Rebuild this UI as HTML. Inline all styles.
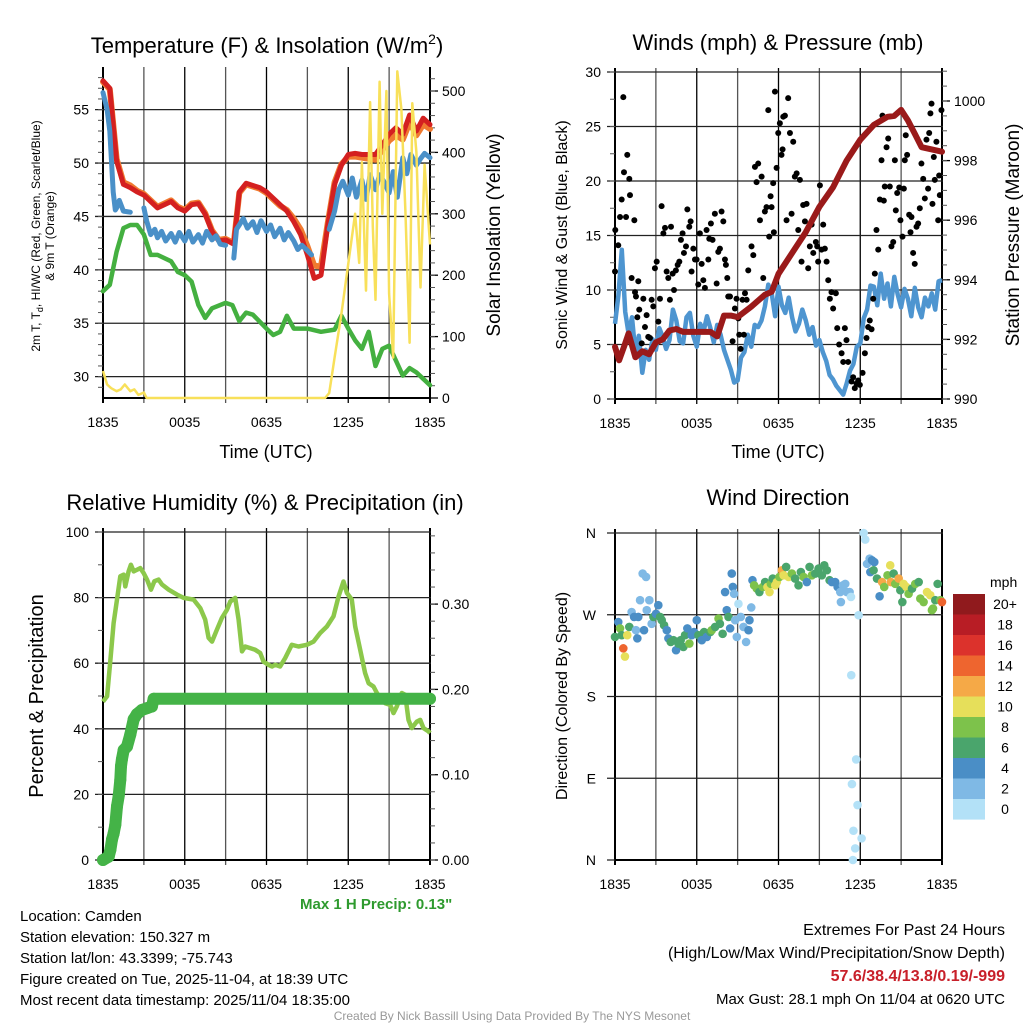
<!DOCTYPE html>
<html><head><meta charset="utf-8"><style>
html,body{margin:0;padding:0;background:#fff;}
svg{display:block;font-family:"Liberation Sans",Arial,sans-serif;}
</style></head><body>
<svg id="chart" width="1024" height="1024" viewBox="0 0 1024 1024" xmlns="http://www.w3.org/2000/svg">
<rect width="1024" height="1024" fill="#fff"/>
<g id="g1"></g>
<g id="g2"></g>
<g id="g3"></g>
<g id="g4"></g>
<text x="267" y="53" font-size="22" text-anchor="middle">Temperature (F) &amp; Insolation (W/m<tspan dy="-9" font-size="14">2</tspan><tspan dy="9">)</tspan></text>
<text x="778" y="50" font-size="22" text-anchor="middle">Winds (mph) &amp; Pressure (mb)</text>
<text x="265" y="510" font-size="22" text-anchor="middle">Relative Humidity (%) &amp; Precipitation (in)</text>
<text x="778" y="505" font-size="22" text-anchor="middle">Wind Direction</text>
<text x="266" y="458" font-size="18" text-anchor="middle">Time (UTC)</text>
<text x="778" y="458" font-size="18" text-anchor="middle">Time (UTC)</text>
<text transform="translate(40,236) rotate(-90)" font-size="12" text-anchor="middle">2m T, T<tspan dy="3" font-size="9">d</tspan><tspan dy="-3">, HI/WC (Red, Green, Scarlet/Blue)</tspan></text>
<text transform="translate(54,236) rotate(-90)" font-size="12" text-anchor="middle">&amp; 9m T (Orange)</text>
<text transform="translate(500,235) rotate(-90)" font-size="19" text-anchor="middle">Solar Insolation (Yellow)</text>
<text transform="translate(567,235) rotate(-90)" font-size="16" text-anchor="middle">Sonic Wind &amp; Gust (Blue, Black)</text>
<text transform="translate(1019,235) rotate(-90)" font-size="19" text-anchor="middle">Station Pressure (Maroon)</text>
<text transform="translate(43,696) rotate(-90)" font-size="20" text-anchor="middle">Percent &amp; Precipitation</text>
<text transform="translate(567,696) rotate(-90)" font-size="16" text-anchor="middle">Direction (Colored By Speed)</text>
<text x="300" y="909" font-size="15" font-weight="bold" fill="#2e9a2e">Max 1 H Precip: 0.13"</text>
<g font-size="15">
<text x="20" y="921">Location: Camden</text>
<text x="20" y="942">Station elevation: 150.327 m</text>
<text x="20" y="963">Station lat/lon: 43.3399; -75.743</text>
<text x="20" y="984">Figure created on Tue, 2025-11-04, at 18:39 UTC</text>
<text x="20" y="1005">Most recent data timestamp: 2025/11/04 18:35:00</text>
</g>
<g font-size="16" text-anchor="end">
<text x="1005" y="935">Extremes For Past 24 Hours</text>
<text x="1005" y="958">(High/Low/Max Wind/Precipitation/Snow Depth)</text>
<text x="1005" y="981" font-weight="bold" fill="#c8202a">57.6/38.4/13.8/0.19/-999</text>
<text x="1005" y="1004" font-size="15">Max Gust: 28.1 mph On 11/04 at 0620 UTC</text>
</g>
<text x="512" y="1020" font-size="12" fill="#999" text-anchor="middle">Created By Nick Bassill Using Data Provided By The NYS Mesonet</text>
</svg>
<script>
// ---------------- data ----------------
const xTickLabels = ["1835","0035","0635","1235","1835"];
const tempTicks = [30,35,40,45,50,55];
const insolTicks = [0,100,200,300,400,500];
const windTicks = [0,5,10,15,20,25,30];
const presTicks = [990,992,994,996,998,1000];
const rhTicks = [0,20,40,60,80,100];
const precipTicks = [0.00,0.10,0.20,0.30];
const dirTickLabels = ["N","E","S","W","N"];
const dirTickValues = [0,90,180,270,360];

const redT = [0,0.5,1,1.5,2,2.5,3,3.5,4,4.5,5,5.5,6,6.5,7,7.5,8,8.5,9,9.6,10,10.5,11,11.5,12,12.5,13,13.5,14,14.5,15,15.5,16,16.5,17,17.5,18,18.5,19,19.5,20,20.5,21,21.5,22,22.5,23,23.5,24];
const redV = [57.7,57,50.2,48,47.7,47.3,47,46.4,45.8,46.1,46.4,45.8,45.5,46.1,46.2,45.2,43.6,42.7,42.8,42.4,47.3,48.1,47.9,47.7,47.3,46.7,46.1,45.5,44.5,43.3,41.4,39.2,39.5,44.2,48,49.8,50.8,50.9,50.8,50.8,50.8,51.7,52.7,53.3,52.7,54.5,53,54.2,53.6];
const orangeV = [57.6,56.9,50.4,48.2,47.9,47.4,47.1,46.5,45.9,46.2,46.5,45.9,45.6,46.2,46.3,45.3,43.7,42.8,42.9,42.5,47.2,48,47.8,47.6,47.2,46.6,46,45.6,44.8,43.8,42.2,40.4,40.3,44.4,48.2,49.9,50.6,50.6,50.5,50.4,50.3,51.2,52.1,52.6,52.2,53.8,52.6,53.6,53.2];
const blueT = [0,0.3,0.5,0.75,0.9,1,1.2,1.5,2,null,3,3.2,3.5,3.8,4,4.3,4.6,5,5.3,5.6,6,6.3,6.6,7,7.3,7.6,8,8.3,8.6,9,null,9.6,9.8,10,10.3,10.6,11,11.3,11.6,12,12.3,12.6,13,13.3,13.6,14,14.3,14.6,15,15.3,null,16.6,17,17.3,17.6,18,18.3,18.6,19,19.3,19.6,20,20.3,20.6,21,21.3,21.6,22,22.3,22.6,23,23.3,23.6,24];
const blueV = [56.6,55,53,47.3,45.6,45.8,46.5,45.5,45.4,null,45.8,44.6,43.3,43.8,43,43.6,42.7,43.4,42.6,43.5,42.7,43.6,42.6,43.3,42.5,43.6,42.8,43.2,42.4,42.3,null,41.1,43.8,44.2,44.8,43.9,44.5,43.5,44.6,43.6,44.2,43.1,43.9,42.8,43.5,42.7,41.9,42.3,41.8,41.4,null,43.8,45.5,47.5,48.3,47,48.6,46.8,48.4,46.6,48.9,47.5,48.9,48.3,47.2,49.2,46.8,50.5,49,50.8,49.8,50.4,50.9,50.5];
const greenT = [0,0.5,1,1.5,2,2.5,3,3.5,4,5,5.5,6,6.5,7,7.5,8,9,9.5,10,10.5,11,12,12.5,13,13.5,14,15,16,17,17.5,18,18.5,19,19.5,20,20.5,21,21.5,22,22.5,23,23.5,24];
const greenV = [38,38.6,41.7,43.9,44.2,44.2,43.3,41.4,41.4,40.8,39.8,39.5,38.9,36.7,35.5,36.4,36.9,36.7,35.2,36,35.8,34.5,33.9,34.2,35.7,34.5,34.5,34.2,34.4,35.7,34.5,33.4,32.6,34.2,31,32.6,32.9,31.5,30.1,30.8,30.4,29.8,29.2];
const solarT = [0,0.3,0.6,1,1.3,1.6,2,2.3,2.6,3,3.2,16.3,16.6,17,17.5,18,18.5,18.8,19,19.3,19.6,19.8,20,20.3,20.5,20.8,21,21.3,21.6,21.9,22.2,22.5,22.7,23,23.3,23.6,24];
const solarV = [44,22,16,11,14,22,11,14,5,9,0,0,8,66,137,219,300,220,384,175,482,280,160,515,300,500,170,66,532,470,300,90,480,400,180,380,250];

const presT = [0,0.3,0.7,1,1.5,2,2.5,3,3.5,4,4.5,5,6,7,7.5,8,8.5,9,10,11,11.5,12,13,14,15,16,17,18,19,20,20.5,21,21.5,22,22.5,23,24];
const presV = [991.75,991.3,991.8,992.2,991.4,991.6,991.5,991.9,992,992.3,992.35,992.25,992.25,992.25,992.1,992.8,992.8,992.75,993.1,993.5,993.6,994.2,994.9,995.6,996.45,997.1,998,998.7,999.2,999.47,999.5,999.7,999.35,998.9,998.45,998.4,998.3];
const windT = [0,0.25,0.5,0.75,1,1.25,1.5,1.75,2,2.25,2.5,2.75,3,3.25,3.5,3.75,4,4.25,4.5,4.75,5,5.25,5.5,5.75,6,6.25,6.5,6.75,7,7.25,7.5,7.75,8,8.25,8.5,8.75,9,9.25,9.5,9.75,10,10.25,10.5,10.75,11,11.25,11.5,11.75,12,12.25,12.5,12.75,13,13.25,13.5,13.75,14,14.25,14.5,14.75,15,15.25,15.5,15.75,16,16.25,16.5,16.75,17,17.25,17.5,17.75,18,18.25,18.5,18.75,19,19.25,19.5,19.75,20,20.25,20.5,20.75,21,21.25,21.5,21.75,22,22.25,22.5,22.75,23,23.25,23.5,23.75,24];
const windV = [6.9,9.5,13.7,8,6,7.5,4.2,5.8,2.4,4.5,3.6,5.5,4.5,6.5,5.7,4.6,5.4,8.2,7.2,5.3,5.1,7.5,7.9,5.8,4.8,6.9,6.2,7.6,6.5,5.2,6.8,5.9,4.5,3.6,2.7,1.5,1.7,3.8,4.3,5.9,4.8,6.8,6.6,7.2,8.5,10.5,9.7,7.6,10.3,8.6,7.9,9.3,7.5,6.2,6.9,8.2,7.2,5.9,6.6,4.9,5.4,4.3,3.5,2.2,1.8,1.2,0.8,0.4,1.4,2.6,3.2,4.8,5.1,7.4,8.2,10.4,10.3,8.6,11.5,9.2,10.6,8.5,11.2,9.6,8.4,10.1,9.2,7.6,10.2,8.4,7.5,9.3,8.5,9.7,8.2,10.8,10.9];
const gustT = [0,0.02,0.24,0.37,0.49,0.61,0.66,0.81,0.9,1.05,1.1,1.22,1.42,1.47,1.54,1.64,1.71,1.78,1.96,2.08,2.2,2.32,2.44,2.57,2.69,2.81,2.93,3.06,3.18,3.3,3.42,3.55,3.67,3.79,3.91,4.03,4.11,4.23,4.33,4.47,4.6,4.72,4.84,4.96,5.06,5.21,5.31,5.45,5.55,5.62,5.75,5.87,5.99,6.11,6.23,6.36,6.48,6.6,6.72,6.85,6.92,7.04,7.16,7.33,7.46,7.58,7.7,7.82,7.95,8.07,8.14,8.24,8.31,8.44,8.63,8.8,8.92,9.05,9.12,9.22,9.36,9.46,9.54,9.66,9.78,10.02,10.15,10.27,10.39,10.51,10.64,10.76,10.88,11,11.12,11.25,11.32,11.42,11.49,11.61,11.66,11.74,11.86,11.98,12.1,12.22,12.3,12.35,12.47,12.59,12.71,12.84,12.96,13.08,13.2,13.33,13.45,13.57,13.69,13.81,13.94,14.06,14.18,14.3,14.43,14.55,14.74,14.84,14.91,15.04,15.16,15.28,15.4,15.53,15.65,15.77,15.89,16.01,16.21,16.31,16.45,16.63,16.75,16.87,16.99,17.11,17.36,17.48,17.6,17.73,17.85,17.97,18.17,18.34,18.46,18.58,18.7,18.83,18.95,19.07,19.19,19.32,19.44,19.56,19.63,19.73,19.8,19.93,20.05,20.17,20.29,20.42,20.54,20.61,20.71,20.86,20.95,21.1,21.2,21.27,21.34,21.44,21.59,21.69,21.76,21.88,22,22.13,22.25,22.37,22.49,22.62,22.74,22.86,22.98,23.06,23.15,23.23,23.3,23.4,23.47,23.59,23.72,23.79,23.84,23.96];
const gustV = [11.7,15.5,14.1,16.7,18.3,27.7,20.8,16.7,22.4,20.2,18.7,11.1,16.4,9.8,9.4,7.5,10.8,8.2,5.1,9.2,6.6,7.7,5.7,5.6,9.1,8.5,12,12.6,7.1,9.2,17.7,15.2,15.7,11.7,11.1,9.1,15.8,11.5,10,11.8,12.3,12.6,14.6,15.2,13.4,14,17.4,15.8,16.3,11.7,13.8,12.8,12.8,10.5,15.2,12.4,10.9,10.2,15.5,12.8,14.7,16.1,14.6,17,10.6,13.5,13.8,17.2,16.3,12.8,12.3,11.1,9.4,9.4,5.3,8.3,9.2,7.4,5.9,4.6,9.1,5.9,9.7,9.1,11.8,14,13.2,21.3,19.9,21.6,16.4,20.4,11.1,17.2,17.6,26.5,14.9,18.6,17.6,19.8,15.3,28.2,21.2,24.4,25.3,22.4,22.9,25.9,26,16.4,27.6,24.4,17,23.6,20.4,20.7,15.5,20.1,12.6,17.8,16.3,17.9,12,14,16,13.4,14.4,14,12.6,19.6,13.7,16,13.8,12.6,10.9,9.2,9.8,8.3,9.7,6.5,5,4.2,3.4,6.5,5.4,3.4,1.6,2,1,1.4,1.7,1.3,2.4,4.2,5.6,6.6,7.2,6.4,9.2,11.5,15.5,13.7,18.3,21.9,26,18.2,19.5,23.1,23.9,19.5,14,14.4,21.9,17.3,18.9,19.4,16.4,14.9,19.3,21.9,24.2,22.4,16.9,15.3,16.7,13.4,12.4,15.8,16.1,17.5,21.6,20.2,18.4,23.8,19.3,24.4,26.2,27.1,17.9,22.2,20.1,23.6,16.4,20.5,18.7,26.5];

const rhT = [0,0.3,0.54,0.78,1.03,1.27,1.52,1.64,1.88,2.05,2.25,2.74,2.98,3.23,3.52,3.77,4.08,4.33,4.82,5.43,5.92,6.65,7.14,7.5,7.75,8,8.36,8.73,9.1,9.34,9.7,9.95,10.2,10.44,10.8,11.17,11.54,11.78,12.15,12.4,12.64,13,13.37,13.86,14.35,14.96,15.45,15.94,16.43,16.92,17.29,17.65,17.9,18.26,18.51,18.88,19.24,19.49,19.85,20.1,20.34,20.71,21.08,21.32,21.56,21.93,22.18,22.42,22.66,23.03,23.28,23.52,23.89,24];
const rhV = [48.3,49.9,61,72.2,79.4,86.5,87,83.4,88,90,88,89,87.5,85.5,82.4,85,85.5,84,82.4,80.9,79.9,79.4,76.8,73.3,67.7,66.6,70.2,73.8,76.3,78.8,79.9,73.3,63.6,65.1,64.6,64.1,63.1,60.5,59.5,59,59.5,59,61.6,65.6,65.1,65.6,66.6,69.2,71.2,74.3,80.4,84.9,81.4,79.4,71.2,64.1,57,53.9,52.9,50.9,49.4,47.8,47.3,44.8,46.8,50.9,50.4,42.7,40.2,42.2,42.7,40.2,39.2,38.7];
const precipT = [0,0.42,0.54,0.66,0.78,0.9,1.03,1.15,1.27,1.32,1.39,1.52,1.76,2,2.25,2.49,2.86,3.23,3.59,3.72,6,9,12,15,18,21,24];
const precipV = [0,0.004,0.012,0.024,0.031,0.041,0.063,0.075,0.094,0.11,0.118,0.129,0.133,0.147,0.165,0.171,0.176,0.178,0.18,0.189,0.189,0.189,0.189,0.189,0.189,0.189,0.189];

const dirT = [0,0.24,0.37,0.49,0.61,0.73,0.9,1.05,1.22,1.4,1.54,1.64,1.71,1.84,2.03,2.28,2.13,2.33,2.52,2.69,2.82,3.01,3.18,3.31,3.43,3.6,3.8,3.92,4.09,4.29,4.48,4.65,4.82,5.02,5.14,5.31,5.46,5.63,5.8,6,6.12,6.37,6.54,6.74,7,7.1,7.35,7.6,7.7,7.9,8.08,8.2,8.33,8.45,8.57,8.65,8.74,8.82,8.94,9.06,9.23,9.43,9.62,9.8,9.87,10,10.09,10.21,10.41,10.6,10.85,11.02,11.19,11.34,11.44,11.58,11.76,11.88,12.07,12.25,12.37,12.56,12.74,12.98,13.22,13.47,13.64,13.84,14.08,14.28,14.45,14.7,14.94,15.18,15.36,15.55,15.75,15.92,16.16,16.34,16.53,16.73,16.9,17.02,17.22,17.32,16.58,17.88,17.34,17.7,17.39,17.8,17.5,18.1,17.63,17.46,18.25,18.37,18.5,18.69,18.86,19.03,18.74,18.98,19.23,19.42,19.6,19.76,20,20.2,20.25,20.45,20.57,20.82,20.94,21.09,21.18,21.38,21.55,21.8,22.04,22.29,22.41,22.65,22.9,23.14,23.34,23.51,23.68,23.88,24,23.26];
const dirV = [245.6,262,255,247.5,233,224,247.5,256.6,273,267.6,253,244,267.6,286,315.3,311.6,253,275,286,260,267.6,271,280.5,267.6,264,258.5,253,244,240,242,231,238.3,242,234.6,247.5,255,238.3,247.5,251,264,247.5,242,251,245.6,251,253,256.6,265.8,260,249,295,275,267.6,255,315.3,300.6,293,264,245.6,282,267.6,256.6,240,253,264,278,308,302.4,298.8,295,300.6,306,300.6,295,304,309.8,302.4,306,311.6,319,313.4,322.6,311.6,315.3,309.8,302.4,317,311.6,306,322.6,313.4,315.3,320.8,313.4,324.4,319,308,306,306,300.6,295,302.4,304,295,295,289.6,284,269.5,203.5,110.7,83.6,60.5,32.2,23.8,12.8,0,360,352.7,326,331.8,330,328,317,319,309.8,290.3,306,300.6,313.4,324.4,306,315.3,304,309.8,297,284,304,300.6,293,298.8,304,306,287.8,284,295,291.5,276.8,286,304,286,284,275];
const dirSpd = [6,4,8,6,15,10,10,7,2,4,3,4,4,2,2,2,4,2,2,2,6,4,4,6,6,6,4,4,6,6,4,6,6,6,6,4,8,4,4,4,6,4,6,4,6,8,6,8,6,6,4,4,6,4,4,4,2,2,2,0,2,2,2,4,4,2,4,8,8,6,8,6,10,10,8,6,10,10,8,12,10,6,10,8,6,6,6,8,4,6,8,6,6,6,6,6,6,4,4,4,2,2,2,2,2,0,2,0,0,0,0,0,0,0,0,0,0,0,2,2,4,4,4,6,6,4,12,8,8,10,12,6,8,12,6,6,10,10,8,6,8,6,8,8,10,10,8,6,6,8,14,8];
const speedLabels = ["20+","18","16","14","12","10","8","6","4","2","0"];
const speedColors = ["#b3e1f7","#7fb9e5","#4a8ec6","#4aa56c","#7dc24b","#e6df5a","#f5a947","#ee652f","#dc322c","#b81d25","#901a1d"];

// ---------------- drawing ----------------
const NS="http://www.w3.org/2000/svg";
function el(parent,tag,attrs){const e=document.createElementNS(NS,tag);for(const k in attrs)e.setAttribute(k,attrs[k]);parent.appendChild(e);return e;}
function txt(parent,x,y,s,size,anchor){const t=el(parent,"text",{x:x,y:y,"font-size":size,"text-anchor":anchor});t.textContent=s;return t;}
function pathD(T,V,sx,sy){let d="",pen=false;for(let i=0;i<T.length;i++){if(T[i]===null||V[i]===null){pen=false;continue;}d+=(pen?"L":"M")+sx(T[i]).toFixed(1)+" "+sy(V[i]).toFixed(1);pen=true;}return d;}

function frame(g,P,leftTicks,ly,leftFmt,rightTicks,ry,rightFmt,minorL,minorR){
  const sx=h=>P.x0+h*(P.x1-P.x0)/24;
  for(let h=0;h<=24;h+=3){const x=sx(h);
    const l=el(g,"line",{x1:x,y1:P.y0-4,x2:x,y2:P.y1+5,stroke:(h%6===0)?"#000":"#555","stroke-width":(h===0||h===24)?2:1.3});
    
    }
  for(let i=0;i<xTickLabels.length;i++){const t=txt(g,sx(i*6),P.y1+29,xTickLabels[i],14,"middle");
    
    }
  leftTicks.forEach(v=>{const y=ly(v);
    const l=el(g,"line",{x1:P.x0-8,y1:y,x2:P.x1+1,y2:y,stroke:"#222","stroke-width":1.3});
    
    
    if(leftFmt){const t=txt(g,P.x0-14,y+5,leftFmt(v),14,"end");
    
    }});
  if(minorL){minorL.forEach(v=>{const y=ly(v);el(g,"line",{x1:P.x0-5,y1:y,x2:P.x0,y2:y,stroke:"#555","stroke-width":1});});}
  if(rightTicks){rightTicks.forEach(v=>{const y=ry(v);el(g,"line",{x1:P.x1,y1:y,x2:P.x1+8,y2:y,stroke:"#000","stroke-width":1.3});
    const t=txt(g,P.x1+12,y+5,rightFmt(v),14,"start");
    
    });}
  if(minorR){minorR.forEach(v=>{const y=ry(v);el(g,"line",{x1:P.x1,y1:y,x2:P.x1+5,y2:y,stroke:"#555","stroke-width":1});});}
  el(g,"line",{x1:P.x0,y1:P.y1,x2:P.x1,y2:P.y1,stroke:"#000","stroke-width":2});
  return sx;
}
function range(a,b,s){const r=[];for(let v=a;v<=b+1e-9;v+=s)r.push(+v.toFixed(3));return r;}

// Panel 1
(function(){const g=document.getElementById("g1");const P={x0:103,x1:430,y0:71,y1:398};
 const ty=t=>398-(t-28)*53.4/5, iy=v=>398-v*0.614;
 const sx=frame(g,P,tempTicks,ty,v=>String(v),insolTicks,iy,v=>String(v),range(29,58,1),range(20,520,20));
 const add=(T,V,c,w,name)=>{const p=el(g,"path",{d:pathD(T,V,sx,ty),fill:"none",stroke:c,"stroke-width":w,"stroke-linejoin":"round","stroke-linecap":"round"});
   
   };
 add(greenT,greenV,"#44b040",4.5,"dewpoint-line");
 add(redT,orangeV,"#f07a30",6,"9m-temp-line");
 add(redT,redV,"#d42020",5,"2m-temp-line");
 add(blueT,blueV,"#4a90c8",5,"heat-index-windchill-line");
 const p=el(g,"path",{d:pathD(solarT,solarV,sx,iy),fill:"none",stroke:"#f8e05a","stroke-width":2.5,"stroke-linejoin":"round"});
 
 
})();

// Panel 2
(function(){const g=document.getElementById("g2");const P={x0:615,x1:942,y0:72,y1:399};
 const wy=w=>399-w*10.9, py=p=>399-(p-990)*29.8;
 const sx=frame(g,P,windTicks,wy,v=>String(v),presTicks,py,v=>String(v),range(0,30,2.5),range(990,1001,0.5));
 const b=el(g,"path",{d:pathD(windT,windV,sx,wy),fill:"none",stroke:"#4e95d0","stroke-width":4.5,"stroke-linejoin":"round"});
 
 
 for(let i=0;i<gustT.length;i++){const c=el(g,"circle",{cx:sx(gustT[i]),cy:wy(gustV[i]),r:3,fill:"#000"});
  
  }
 const m=el(g,"path",{d:pathD(presT,presV,sx,py),fill:"none",stroke:"#9a1a1a","stroke-width":6,"stroke-linejoin":"round","stroke-linecap":"round"});
 
 
})();

// Panel 3
(function(){const g=document.getElementById("g3");const P={x0:103,x1:430,y0:532,y1:860};
 const ry=v=>860-v*3.28, qy=v=>860-v*853;
 const sx=frame(g,P,rhTicks,ry,v=>String(v),precipTicks,qy,v=>v.toFixed(2),range(0,100,10),range(0,0.38,0.02));
 const r=el(g,"path",{d:pathD(rhT,rhV,sx,ry),fill:"none",stroke:"#8cc84b","stroke-width":4.5,"stroke-linejoin":"round"});
 
 
 const q=el(g,"path",{d:pathD(precipT,precipV,sx,qy),fill:"none",stroke:"#44b347","stroke-width":12,"stroke-linecap":"round","stroke-linejoin":"round"});
 
 
 for(let i=0;i<precipT.length;i++){const c=el(g,"circle",{cx:sx(precipT[i]),cy:qy(precipV[i]),r:6,fill:"#44b347"});
  
  }
})();

// Panel 4
(function(){const g=document.getElementById("g4");const P={x0:615,x1:942,y0:533,y1:860};
 const dy=d=>860-d*327/360;
 const sx=frame(g,P,dirTickValues,dy,null,null,null,null,null,null);
 for(let i=0;i<dirTickValues.length;i++){const t=txt(g,596,dy(dirTickValues[i])+5,dirTickLabels[i],14,"end");
  
  }
 for(let i=0;i<dirT.length;i++){const ci=Math.max(0,Math.min(10,Math.floor(dirSpd[i]/2)));
  const c=el(g,"circle",{cx:sx(dirT[i]),cy:dy(dirV[i]),r:4.3,fill:speedColors[ci]});
  
  }
 const lg=el(g,"g",{});
 
 
 const ut=txt(lg,990,587,"mph",14,"start");
 for(let i=0;i<speedLabels.length;i++){const y=594+i*20.5;
  el(lg,"rect",{x:953,y:y,width:32,height:20.6,fill:speedColors[10-i]});
  const t=txt(lg,1005,y+15,speedLabels[i],14,"middle");
  
  }
})();
</script>
</body></html>
